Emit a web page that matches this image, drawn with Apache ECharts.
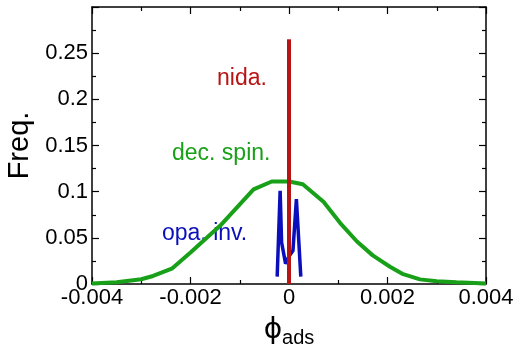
<!DOCTYPE html>
<html>
<head>
<meta charset="utf-8">
<title>phi_ads</title>
<script src="https://cdn.jsdelivr.net/npm/echarts@6/dist/echarts.min.js"></script>
<style>
html, body { margin: 0; padding: 0; background: #fff; }
#main { width: 514px; height: 349px; }
</style>
</head>
<body>
<div id="main"></div>
<script>
// decoherence spin (green)
var decX = [-0.004, -0.0035, -0.003, -0.00276, -0.00238, -0.002, -0.0014, -0.00072, -0.00035, 0, 0.00028, 0.0007, 0.00104, 0.00138, 0.0017, 0.00205, 0.0023, 0.00266, 0.003, 0.0034, 0.004];
var decY = [0.0005, 0.002, 0.0052, 0.0087, 0.0166, 0.034, 0.063, 0.1025, 0.111, 0.111, 0.108, 0.089, 0.066, 0.046, 0.031, 0.0187, 0.011, 0.005, 0.003, 0.0018, 0.0005];
// opacity inversion (blue)
var opaX = [-0.00024, -0.00018, -0.00015, -0.00007, 0, 0.00008, 0.00015, 0.00024];
var opaY = [0.008, 0.101, 0.045, 0.022, 0.03, 0.036, 0.092, 0.008];
// nida (red)
var nidaX = [0, 0];
var nidaY = [0, 0.265];

var xTicks = [-0.004, -0.002, 0, 0.002, 0.004];
var yTicks = [0, 0.05, 0.1, 0.15, 0.2, 0.25];

function pairs(xs, ys) {
    return xs.map(function (x, i) { return [x, ys[i]]; });
}

var font = 'Liberation Sans, Arial, sans-serif';
var myChart = echarts.init(document.getElementById('main'));

var axisCommon = {
    axisLine: { show: true, onZero: false, lineStyle: { color: '#000', width: 1.5 } },
    axisTick: { show: true, inside: true, length: 7, lineStyle: { color: '#000', width: 1.2 } },
    minorTick: { show: true, splitNumber: 2, length: 4, lineStyle: { color: '#000', width: 1.2 } },
    splitLine: { show: false }
};

var option = {
    animation: false,
    grid: { left: 92, right: 28, top: 7, bottom: 65, containLabel: false, outerBoundsMode: 'none' },
    xAxis: [
        Object.assign({
            type: 'value', min: -0.004, max: 0.004, interval: 0.002, position: 'bottom',
            axisLabel: {
                color: '#000', fontSize: 22, fontFamily: font, margin: 3,
                formatter: function (v) {
                    var t = xTicks.find(function (k) { return Math.abs(k - v) < 1e-9; });
                    return t === undefined ? '' : (t === 0 ? '0' : t.toFixed(3));
                }
            },
            name: '{phi|ϕ}{sub|ads}', nameLocation: 'middle', nameGap: 30,
            nameTextStyle: {
                rich: {
                    phi: { fontSize: 28, fontFamily: 'DejaVu Sans, sans-serif', color: '#000' },
                    sub: { fontSize: 20, fontFamily: font, color: '#000', verticalAlign: 'bottom', padding: [14, 0, 0, 0] }
                }
            }
        }, axisCommon),
        Object.assign({
            type: 'value', min: -0.004, max: 0.004, interval: 0.002, position: 'top',
            axisLabel: { show: false }
        }, axisCommon)
    ],
    yAxis: [
        Object.assign({
            type: 'value', min: 0, max: 0.3, interval: 0.05, position: 'left',
            axisLabel: {
                color: '#000', fontSize: 22, fontFamily: font, margin: 4,
                formatter: function (v) {
                    var t = yTicks.find(function (k) { return Math.abs(k - v) < 1e-9; });
                    return t === undefined ? '' : String(t);
                }
            },
            name: 'Freq.', nameLocation: 'middle', nameGap: 56, nameRotate: 90,
            nameTextStyle: { color: '#000', fontSize: 29, fontFamily: font }
        }, axisCommon),
        Object.assign({
            type: 'value', min: 0, max: 0.3, interval: 0.05, position: 'right',
            axisLabel: { show: false }
        }, axisCommon)
    ],
    series: [
        {
            name: 'dec. spin.', type: 'line', data: pairs(decX, decY),
            showSymbol: false, lineStyle: { color: '#18a018', width: 4 }, z: 2
        },
        {
            name: 'opa. inv.', type: 'line', data: pairs(opaX, opaY),
            showSymbol: false, lineStyle: { color: '#0a0fbb', width: 3.5 }, z: 3
        },
        {
            name: 'nida.', type: 'line', data: pairs(nidaX, nidaY),
            showSymbol: false, lineStyle: { color: '#b81414', width: 4 }, z: 4
        }
    ],
    graphic: [
        { type: 'text', left: 217, top: 67, style: { text: 'nida.', fill: '#b81414', font: '23px ' + font } },
        { type: 'text', left: 172, top: 142, style: { text: 'dec. spin.', fill: '#18a018', font: '23px ' + font } },
        { type: 'text', left: 162, top: 222, style: { text: 'opa. inv.', fill: '#0a0fbb', font: '23px ' + font } }
    ]
};
myChart.setOption(option);
</script>
</body>
</html>
